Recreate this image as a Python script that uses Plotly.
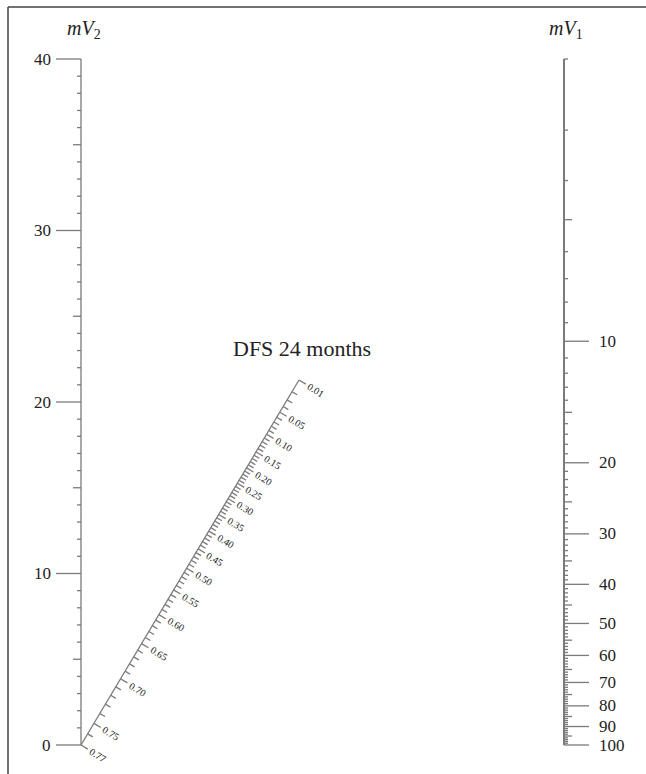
import numpy as np
import plotly.graph_objects as go

# ---------------- data ----------------
mv2_range = [0, 40]
mv2_labels = [0, 10, 20, 30, 40]
mv2_ticks = list(range(0, 41))

mv1_range = [2, 100]
mv1_labels = [10, 20, 30, 40, 50, 60, 70, 80, 90, 100]
mv1_ticks = list(range(2, 101))

dfs_labels = [0.01, 0.05, 0.10, 0.15, 0.20, 0.25, 0.30, 0.35, 0.40, 0.45,
              0.50, 0.55, 0.60, 0.65, 0.70, 0.75, 0.77]
dfs_ticks = [round(0.01 * i, 2) for i in range(1, 78)]
dfs_base = 0.77      # DFS at mV2 = 0
dfs_top = 0.01       # upper end of the DFS scale

title_left = "<i>mV</i><sub>2</sub>"
title_right = "<i>mV</i><sub>1</sub>"
title_mid = "DFS 24 months"

# ---------------- geometry ----------------
W, H = 646, 774
X0PX, X1PX = 81, 564
Y0PX, Y40PX = 745, 59
ux = X1PX - X0PX
uy = (Y0PX - Y40PX) / (mv2_range[1] - mv2_range[0])
xmin = -X0PX / ux
xmax = xmin + W / ux
ymin = -(H - Y0PX) / uy
ymax = ymin + H / uy

def px2x(p):
    return (p - X0PX) / ux

def px2y(p):
    return (Y0PX - p) / uy

# right axis: log scale, mv1_range[0] at top, mv1_range[1] at bottom
def y_mv1(v):
    return mv2_range[1] * (1 - np.log(v / mv1_range[0]) / np.log(mv1_range[1] / mv1_range[0]))

# diagonal DFS scale (Z-type nomogram): s/(1-s) proportional to log(-log p) - log(-log p0)
S_TOP = (299 - X0PX) / ux
Y_TOP = px2y(380)
K = Y_TOP / S_TOP
def g(p):
    return np.log(-np.log(p)) - np.log(-np.log(dfs_base))
C = (S_TOP / (1 - S_TOP)) / g(dfs_top)
def s_dfs(p):
    r = C * g(p)
    return r / (1 + r)

AX = "#7a7a7a"
TXT = "#222222"
FONT = "Liberation Serif"

xs, ys = [], []
def seg(x0, y0, x1, y1):
    xs.extend([x0, x1, None]); ys.extend([y0, y1, None])

# left axis
seg(0, mv2_range[0], 0, mv2_range[1])
ann = []
for v in mv2_ticks:
    L = 25 if v in mv2_labels else (8 if v % 5 == 0 else 4)
    seg(0, v, -L / ux, v)
for v in mv2_labels:
    ann.append(dict(x=-28 / ux, y=v, text=str(v), xanchor="right", yanchor="middle",
                    showarrow=False, font=dict(family=FONT, size=17, color=TXT)))

# right axis
xs2, ys2 = [], []
xs2.extend([1, 1, None]); ys2.extend([y_mv1(mv1_range[0]), y_mv1(mv1_range[1]), None])
for v in mv1_ticks:
    L = 25 if v in mv1_labels else (8 if v % 5 == 0 else 4)
    yv = y_mv1(v)
    seg(1, yv, 1 + L / ux, yv)
for v in mv1_labels:
    ann.append(dict(x=1 + 33 / ux, y=y_mv1(v), text=str(v), xanchor="left", yanchor="middle",
                    showarrow=False, font=dict(family=FONT, size=17, color=TXT)))

# diagonal scale
seg(0, 0, s_dfs(dfs_top), K * s_dfs(dfs_top))
dlx, dly = S_TOP * ux, Y_TOP * uy
nrm = np.hypot(dlx, dly)
px_dx, px_dy = dly / nrm, dlx / nrm  # perpendicular, pointing right/down (pixels, y down)
ang = np.degrees(np.arctan2(px_dy, px_dx))
for p in dfs_ticks:
    s = s_dfs(p)
    x, y = s, K * s
    L = 8 if p in dfs_labels else 6
    seg(x, y, x + L * px_dx / ux, y - L * px_dy / uy)
for p in dfs_labels:
    s = s_dfs(p)
    x, y = s, K * s
    d = 20
    ann.append(dict(x=x + d * px_dx / ux, y=y - d * px_dy / uy, text=f"{p:.2f}",
                    textangle=ang, xanchor="center", yanchor="middle", showarrow=False,
                    font=dict(family=FONT, size=10, color=TXT)))

# titles
ann.append(dict(x=px2x(84), y=px2y(29), text=title_left, showarrow=False,
                font=dict(family=FONT, size=20, color=TXT)))
ann.append(dict(x=px2x(566), y=px2y(29), text=title_right, showarrow=False,
                font=dict(family=FONT, size=20, color=TXT)))
ann.append(dict(x=px2x(302), y=px2y(348), text=title_mid, showarrow=False,
                font=dict(family=FONT, size=22, color=TXT)))

fig = go.Figure()
fig.add_trace(go.Scatter(x=xs, y=ys, mode="lines", line=dict(color=AX, width=1.3),
                         hoverinfo="skip", showlegend=False))
fig.add_trace(go.Scatter(x=xs2, y=ys2, mode="lines", line=dict(color=AX, width=2),
                         hoverinfo="skip", showlegend=False))

# frame (left and top edges)
fig.add_shape(type="line", xref="paper", yref="paper", x0=8 / W, x1=8 / W, y0=0, y1=1 - 7 / H,
              line=dict(color="#444", width=1.5))
fig.add_shape(type="line", xref="paper", yref="paper", x0=8 / W, x1=1, y0=1 - 7 / H, y1=1 - 7 / H,
              line=dict(color="#444", width=1.5))

fig.update_layout(
    width=W, height=H, margin=dict(l=0, r=0, t=0, b=0),
    paper_bgcolor="white", plot_bgcolor="white",
    xaxis=dict(range=[xmin, xmax], visible=False, fixedrange=True),
    yaxis=dict(range=[ymin, ymax], visible=False, fixedrange=True),
    annotations=ann,
)
fig.write_html("out.html", config={"displayModeBar": False})

# remove the browser's default page margin so the figure sits at (0, 0)
with open("out.html", encoding="utf-8") as f:
    html = f.read()
html = html.replace("<head>", "<head><style>html,body{margin:0;padding:0;overflow:hidden;}</style>", 1)
with open("out.html", "w", encoding="utf-8") as f:
    f.write(html)
